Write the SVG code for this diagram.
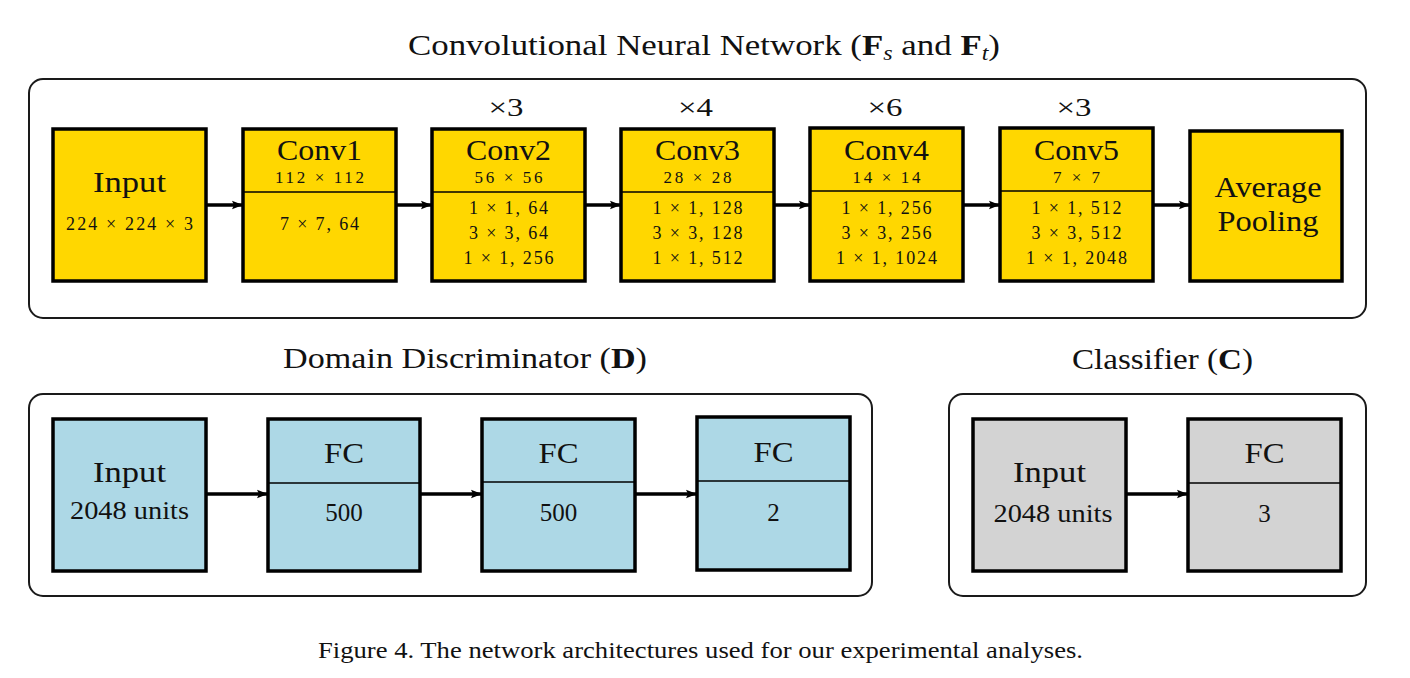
<svg xmlns="http://www.w3.org/2000/svg" width="1410" height="678" viewBox="0 0 1410 678">
<style>
text{font-family:"Liberation Serif","Times New Roman",serif;fill:#111;text-anchor:middle}
.big{font-size:30px}
.sm{font-size:17px}
.md{font-size:18px}
.num{font-size:25px}
.rep{font-size:26px}
.ttl{font-size:29px;text-anchor:start}
.cap{font-size:24px;text-anchor:start}
.cont{fill:#fff;stroke:#1a1a1a;stroke-width:2}
.box{stroke:#000;stroke-width:3.5}
.y{fill:#FFD700}
.b{fill:#ADD8E6}
.g{fill:#D3D3D3}
.div{stroke:#000;stroke-width:1.3}
.conn{stroke:#000;stroke-width:3.5;fill:none;marker-end:url(#ah)}
</style>
<defs>
<marker id="ah" markerUnits="userSpaceOnUse" markerWidth="12" markerHeight="10" refX="11" refY="5" orient="auto">
<path d="M0,0.8 L11,5 L0,9.2 L2,5 Z" fill="#000"/>
</marker>
</defs>
<rect width="1410" height="678" fill="#fff"/>

<text class="ttl" x="408" y="55" textLength="592" lengthAdjust="spacingAndGlyphs">Convolutional Neural Network (<tspan font-weight="bold">F</tspan><tspan font-style="italic" font-size="20" dy="5">s</tspan><tspan dy="-5"> and </tspan><tspan font-weight="bold">F</tspan><tspan font-style="italic" font-size="20" dy="5">t</tspan><tspan dy="-5">)</tspan></text>
<rect class="cont" x="29" y="79" width="1337" height="239" rx="14"/>

<text class="ttl" x="283" y="368" textLength="364" lengthAdjust="spacingAndGlyphs">Domain Discriminator (<tspan font-weight="bold">D</tspan>)</text>
<rect class="cont" x="29" y="394" width="843" height="202" rx="14"/>

<text class="ttl" x="1072" y="369" textLength="181" lengthAdjust="spacingAndGlyphs">Classifier (<tspan font-weight="bold">C</tspan>)</text>
<rect class="cont" x="949" y="394" width="417" height="202" rx="14"/>

<g id="connectors">
<line class="conn" x1="207" y1="205" x2="243" y2="205"/>
<line class="conn" x1="397" y1="205" x2="432" y2="205"/>
<line class="conn" x1="586" y1="205" x2="621" y2="205"/>
<line class="conn" x1="775" y1="205" x2="810" y2="205"/>
<line class="conn" x1="964" y1="205" x2="1000" y2="205"/>
<line class="conn" x1="1153" y1="205" x2="1190" y2="205"/>
<line class="conn" x1="207" y1="494" x2="268" y2="494"/>
<line class="conn" x1="421" y1="494" x2="482" y2="494"/>
<line class="conn" x1="636" y1="494" x2="697" y2="494"/>
<line class="conn" x1="1127" y1="494" x2="1188" y2="494"/>
</g>

<g id="cnn-input">
<rect class="box y" x="53" y="129" width="153" height="152"/>
<text class="big" x="129.5" y="192" textLength="73" lengthAdjust="spacingAndGlyphs">Input</text>
<text class="md" x="129.5" y="230" textLength="127" lengthAdjust="spacing">224 × 224 × 3</text>
</g>

<g id="conv1">
<rect class="box y" x="243" y="129" width="153" height="152"/>
<line class="div" x1="243" y1="192" x2="396" y2="192"/>
<text class="big" x="319.5" y="160" textLength="85" lengthAdjust="spacingAndGlyphs">Conv1</text>
<text class="sm" x="319.5" y="183" textLength="89" lengthAdjust="spacing">112 × 112</text>
<text class="md" x="319.5" y="230" textLength="79" lengthAdjust="spacing">7 × 7, 64</text>
</g>

<g id="conv2">
<text class="rep" x="506" y="116" textLength="35" lengthAdjust="spacingAndGlyphs">×3</text>
<rect class="box y" x="432" y="129" width="153" height="152"/>
<line class="div" x1="432" y1="192" x2="585" y2="192"/>
<text class="big" x="508.5" y="160" textLength="85" lengthAdjust="spacingAndGlyphs">Conv2</text>
<text class="sm" x="508.5" y="183" textLength="68" lengthAdjust="spacing">56 × 56</text>
<text class="md" x="508.5" y="214" textLength="79" lengthAdjust="spacing">1 × 1, 64</text>
<text class="md" x="508.5" y="239" textLength="79" lengthAdjust="spacing">3 × 3, 64</text>
<text class="md" x="508.5" y="264" textLength="90" lengthAdjust="spacing">1 × 1, 256</text>
</g>

<g id="conv3">
<text class="rep" x="695.5" y="116" textLength="35" lengthAdjust="spacingAndGlyphs">×4</text>
<rect class="box y" x="621" y="129" width="153" height="152"/>
<line class="div" x1="621" y1="192" x2="774" y2="192"/>
<text class="big" x="697.5" y="160" textLength="85" lengthAdjust="spacingAndGlyphs">Conv3</text>
<text class="sm" x="697.5" y="183" textLength="68" lengthAdjust="spacing">28 × 28</text>
<text class="md" x="697.5" y="214" textLength="90" lengthAdjust="spacing">1 × 1, 128</text>
<text class="md" x="697.5" y="239" textLength="90" lengthAdjust="spacing">3 × 3, 128</text>
<text class="md" x="697.5" y="264" textLength="90" lengthAdjust="spacing">1 × 1, 512</text>
</g>

<g id="conv4">
<text class="rep" x="885" y="116" textLength="35" lengthAdjust="spacingAndGlyphs">×6</text>
<rect class="box y" x="810" y="128" width="153" height="153"/>
<line class="div" x1="810" y1="191" x2="963" y2="191"/>
<text class="big" x="886.5" y="160" textLength="85" lengthAdjust="spacingAndGlyphs">Conv4</text>
<text class="sm" x="886.5" y="183" textLength="68" lengthAdjust="spacing">14 × 14</text>
<text class="md" x="886.5" y="214" textLength="90" lengthAdjust="spacing">1 × 1, 256</text>
<text class="md" x="886.5" y="239" textLength="90" lengthAdjust="spacing">3 × 3, 256</text>
<text class="md" x="886.5" y="264" textLength="101" lengthAdjust="spacing">1 × 1, 1024</text>
</g>

<g id="conv5">
<text class="rep" x="1074" y="116" textLength="35" lengthAdjust="spacingAndGlyphs">×3</text>
<rect class="box y" x="1000" y="128" width="153" height="153"/>
<line class="div" x1="1000" y1="191" x2="1153" y2="191"/>
<text class="big" x="1076.5" y="160" textLength="85" lengthAdjust="spacingAndGlyphs">Conv5</text>
<text class="sm" x="1076.5" y="183" textLength="47" lengthAdjust="spacing">7 × 7</text>
<text class="md" x="1076.5" y="214" textLength="90" lengthAdjust="spacing">1 × 1, 512</text>
<text class="md" x="1076.5" y="239" textLength="90" lengthAdjust="spacing">3 × 3, 512</text>
<text class="md" x="1076.5" y="264" textLength="101" lengthAdjust="spacing">1 × 1, 2048</text>
</g>

<g id="avgpool">
<rect class="box y" x="1190" y="131" width="152" height="150"/>
<text class="big" x="1268" y="197" textLength="107" lengthAdjust="spacingAndGlyphs">Average</text>
<text class="big" x="1268" y="231" textLength="101" lengthAdjust="spacingAndGlyphs">Pooling</text>
</g>

<g id="d-input">
<rect class="box b" x="53" y="419" width="153" height="152"/>
<text class="big" x="129.5" y="482" textLength="73" lengthAdjust="spacingAndGlyphs">Input</text>
<text class="num" x="129.5" y="519" textLength="119" lengthAdjust="spacingAndGlyphs">2048 units</text>
</g>

<g id="d-fc1">
<rect class="box b" x="268" y="419" width="152" height="152"/>
<line class="div" x1="268" y1="483" x2="420" y2="483"/>
<text class="big" x="344" y="463" textLength="40" lengthAdjust="spacingAndGlyphs">FC</text>
<text class="num" x="344" y="521">500</text>
</g>

<g id="d-fc2">
<rect class="box b" x="482" y="419" width="153" height="152"/>
<line class="div" x1="482" y1="482" x2="635" y2="482"/>
<text class="big" x="558.5" y="463" textLength="40" lengthAdjust="spacingAndGlyphs">FC</text>
<text class="num" x="558.5" y="521">500</text>
</g>

<g id="d-fc3">
<rect class="box b" x="697" y="417" width="153" height="153"/>
<line class="div" x1="697" y1="481" x2="850" y2="481"/>
<text class="big" x="773.5" y="462" textLength="40" lengthAdjust="spacingAndGlyphs">FC</text>
<text class="num" x="773.5" y="521">2</text>
</g>

<g id="c-input">
<rect class="box g" x="973" y="419" width="153" height="152"/>
<text class="big" x="1049.5" y="482" textLength="73" lengthAdjust="spacingAndGlyphs">Input</text>
<text class="num" x="1053" y="522" textLength="119" lengthAdjust="spacingAndGlyphs">2048 units</text>
</g>

<g id="c-fc">
<rect class="box g" x="1188" y="419" width="153" height="152"/>
<line class="div" x1="1188" y1="483" x2="1341" y2="483"/>
<text class="big" x="1264.5" y="463" textLength="40" lengthAdjust="spacingAndGlyphs">FC</text>
<text class="num" x="1264.5" y="522">3</text>
</g>

<text class="cap" x="318" y="658" textLength="765" lengthAdjust="spacingAndGlyphs">Figure 4. The network architectures used for our experimental analyses.</text>
</svg>
